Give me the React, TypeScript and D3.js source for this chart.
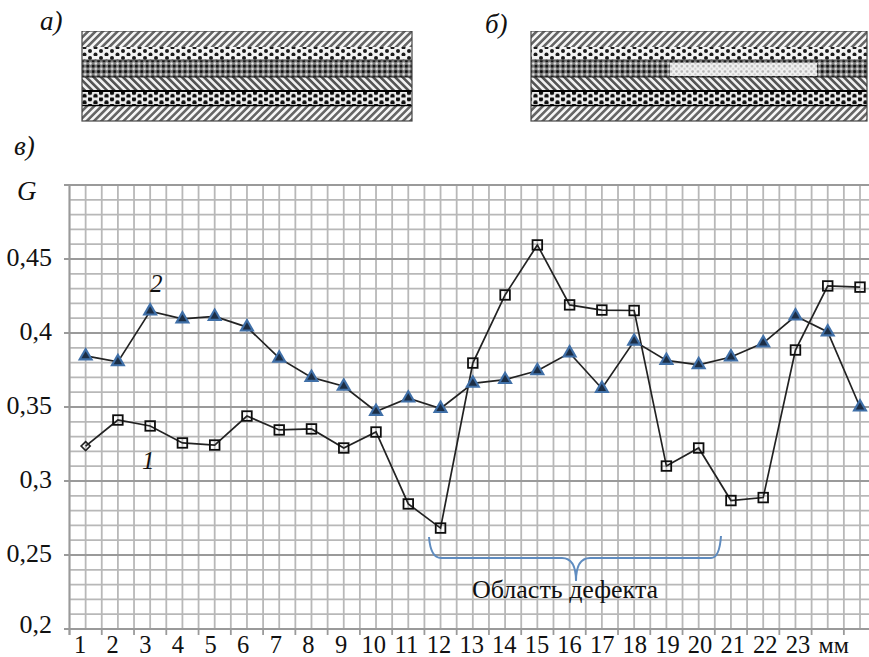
import React from "react";
import * as d3 from "d3";

const positions = d3.range(1, 26);
const series1 = [0.3236,0.3412,0.3372,0.3257,0.3243,0.3439,0.3345,0.3352,0.3223,0.3331,0.2845,0.2682,0.3797,0.4257,0.4595,0.4190,0.4155,0.4152,0.3101,0.3223,0.2868,0.2888,0.3885,0.4318,0.4310];
const series2 = [0.3845,0.3805,0.4148,0.4095,0.4112,0.4040,0.3830,0.3700,0.3640,0.3470,0.3560,0.3490,0.3660,0.3685,0.3745,0.3865,0.3625,0.3945,0.3815,0.3785,0.3838,0.3932,0.4115,0.4007,0.3500];
const xTickLabels = ["1","2","3","4","5","6","7","8","9","10","11","12","13","14","15","16","17","18","19","20","21","22","23","мм"];
const yMajor = [0.2,0.25,0.3,0.35,0.4,0.45,0.5];
const yTickLabels = ["0,2","0,25","0,3","0,35","0,4","0,45"];
const defectLabel = "Область дефекта";

const W = 869, H = 657;
const x = d3.scaleLinear().domain([0.5, 25]).range([69.5, 860]);
const y = d3.scaleLinear().domain([0.2, 0.5]).range([629, 185]);
const labelX = d3.scaleLinear().domain([1, 23]).range([80, 798]);
const serif = "'Liberation Serif', serif";

const gridX = d3.range(0.5, 25.01, 0.5);
const gridY = d3.range(0.2, 0.5001, 0.01);
const bandEdges = d3.range(0.5, 25.01, 1);
const line = d3.line<number>().x((_, i) => x(positions[i])).y((d) => y(d));
const triangle = d3.symbol().type(d3.symbolTriangle).size(105)() as string;
const innerTriangle = d3.symbol().type(d3.symbolTriangle).size(30)() as string;

function Panel({ px, w, defect }: { px: number; w: number; defect?: [number, number] }) {
  return (
    <g>
      <rect x={px} y={31} width={w} height={16} fill="url(#hatchA)" />
      <rect x={px} y={47} width={w} height={13} fill="url(#dots)" />
      <rect x={px} y={60} width={w} height={17} fill="url(#dark)" />
      <rect x={px} y={77} width={w} height={13} fill="url(#hatchB)" />
      <rect x={px} y={92} width={w} height={13} fill="url(#dots2)" />
      <rect x={px} y={106} width={w} height={15} fill="url(#hatchA)" />
      <line x1={px} x2={px + w} y1={91} y2={91} stroke="#000" strokeWidth={2} />
      <line x1={px} x2={px + w} y1={105.5} y2={105.5} stroke="#000" strokeWidth={1.6} />
      <line x1={px} x2={px + w} y1={77} y2={77} stroke="#222" strokeWidth={1.2} />
      <line x1={px} x2={px + w} y1={60} y2={60} stroke="#555" strokeWidth={1} />
      {defect && <rect x={defect[0]} y={63} width={defect[1] - defect[0]} height={13} fill="url(#light)" />}
      <rect x={px} y={31} width={w} height={90} fill="none" stroke="#444" strokeWidth={1.2} />
    </g>
  );
}

export default function App() {
  React.useEffect(() => {
    document.body.style.margin = "0";
    document.body.style.background = "#fff";
  }, []);
  return (
    <svg width={W} height={H} viewBox={`0 0 ${W} ${H}`} style={{ position: "absolute", left: 0, top: 0, display: "block" }}>
      <defs>
        <pattern id="hatchA" width={5.2} height={5.2} patternUnits="userSpaceOnUse" patternTransform="rotate(45)">
          <rect width={5.2} height={5.2} fill="#f6f6f6" />
          <rect width={2.6} height={5.2} fill="#666" />
        </pattern>
        <pattern id="hatchB" width={5.2} height={5.2} patternUnits="userSpaceOnUse" patternTransform="rotate(-45)">
          <rect width={5.2} height={5.2} fill="#f0f0f0" />
          <rect width={2.6} height={5.2} fill="#555" />
        </pattern>
        <pattern id="dots" width={11} height={7} patternUnits="userSpaceOnUse">
          <rect width={11} height={7} fill="#f4f4f4" />
          <circle cx={2} cy={2} r={2} fill="#1a1a1a" />
          <circle cx={7.5} cy={5.4} r={2} fill="#1a1a1a" />
        </pattern>
        <pattern id="dots2" width={11} height={6.5} patternUnits="userSpaceOnUse">
          <rect width={11} height={6.5} fill="#ececec" />
          <circle cx={2} cy={1.8} r={2.2} fill="#111" />
          <circle cx={7.5} cy={5} r={2.2} fill="#111" />
        </pattern>
        <pattern id="dark" width={5.4} height={5.4} patternUnits="userSpaceOnUse">
          <rect width={5.4} height={5.4} fill="#7c7c7c" />
          <circle cx={1.4} cy={1.4} r={1.5} fill="#111" />
          <circle cx={4.1} cy={4.1} r={1.2} fill="#e8e8e8" />
        </pattern>
        <pattern id="light" width={5.4} height={5.4} patternUnits="userSpaceOnUse">
          <rect width={5.4} height={5.4} fill="#f2f2f2" />
          <circle cx={1.4} cy={1.4} r={1.3} fill="#b4b4b4" />
          <circle cx={4.1} cy={4.1} r={1.1} fill="#c8c8c8" />
        </pattern>
        <filter id="soft" x="0" y="0" width="100%" height="100%">
          <feGaussianBlur stdDeviation={0.45} />
        </filter>
      </defs>
      <rect width={W} height={H} fill="#fff" />

      <g filter="url(#soft)">
        <Panel px={82} w={330} />
        <Panel px={531} w={336} defect={[670, 817]} />

        <g stroke="#b8b8b8" strokeWidth={1.8}>
          {gridX.map((d) => (
            <line key={d} x1={x(d)} x2={x(d)} y1={y(0.5)} y2={y(0.2)} />
          ))}
          {gridY.map((d) => (
            <line key={d} x1={x(0.5)} x2={W} y1={y(d)} y2={y(d)} />
          ))}
        </g>
        <g stroke="#9a9a9a" strokeWidth={1.8}>
          {yMajor.map((d) => (
            <line key={d} x1={64} x2={W} y1={y(d)} y2={y(d)} />
          ))}
          <line x1={x(0.5)} x2={x(0.5)} y1={y(0.5)} y2={635} />
          {bandEdges.map((d) => (
            <line key={d} x1={x(d)} x2={x(d)} y1={y(0.2)} y2={635} />
          ))}
        </g>

        <path d="M429,537 C430,550 434,558 441,558 L562,558 C570,558 576,564 576,581 C576,564 582,558 590,558 L711,558 C717,558 720,550 721,536" fill="none" stroke="#5f8cc0" strokeWidth={2} />

        <path d={line(series1) as string} fill="none" stroke="#222" strokeWidth={1.7} />
        <path d={line(series2) as string} fill="none" stroke="#222" strokeWidth={1.7} />

        {series1.map((d, i) =>
          i === 0 ? (
            <rect key={i} x={-3.2} y={-3.2} width={6.4} height={6.4} fill="none" stroke="#222" strokeWidth={1.6}
              transform={`translate(${x(positions[i])},${y(d)}) rotate(45)`} />
          ) : (
            <rect key={i} x={x(positions[i]) - 4.8} y={y(d) - 4.8} width={9.6} height={9.6} fill="none" stroke="#111" strokeWidth={1.8} />
          )
        )}
        {series2.map((d, i) => (
          <g key={i} transform={`translate(${x(positions[i])},${y(d)})`}>
            <path d={triangle} fill="#3f6fa8" />
            <path d={innerTriangle} fill="#1f2f45" />
          </g>
        ))}
      </g>

      <g fontFamily={serif} fill="#111">
        {yTickLabels.map((t, i) => (
          <text key={t} x={52} y={y(yMajor[i]) + (i === 0 ? 4 : 7)} fontSize={26} textAnchor="end">{t}</text>
        ))}
        {xTickLabels.map((t, i) => (
          <text key={t} x={labelX(i + 1) + (t === "мм" ? 3 : 0)} y={653} fontSize={t === "мм" ? 24 : 24.5} textAnchor="middle">{t}</text>
        ))}
        <text x={472} y={598} fontSize={26}>{defectLabel}</text>
        <g fontStyle="italic">
          <text x={40} y={30} fontSize={27}>а)</text>
          <text x={485} y={33} fontSize={27}>б)</text>
          <text x={14} y={155} fontSize={27}>в)</text>
          <text x={17} y={200} fontSize={27}>G</text>
          <text x={150} y={292} fontSize={25}>2</text>
          <text x={142} y={469} fontSize={25}>1</text>
        </g>
      </g>
    </svg>
  );
}
